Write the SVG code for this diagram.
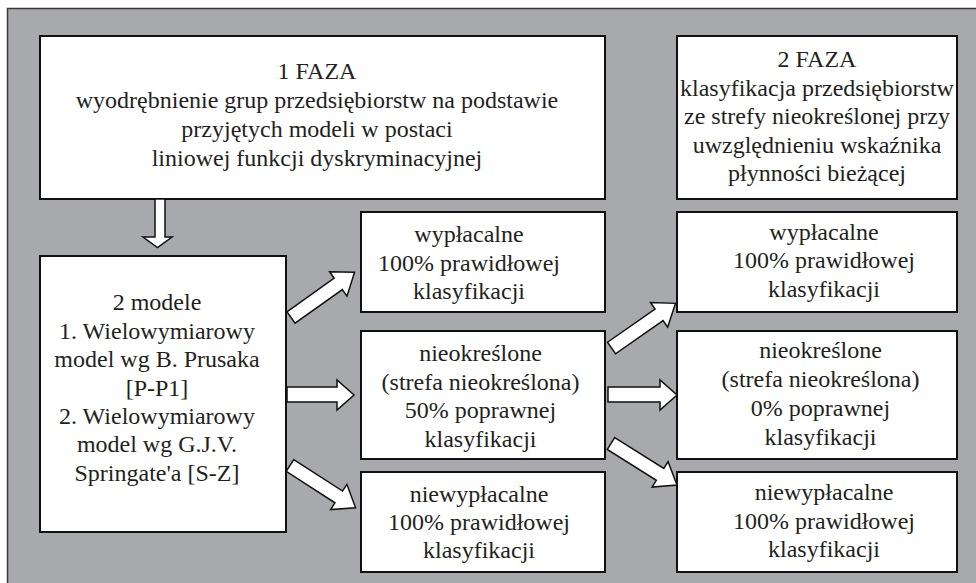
<svg xmlns="http://www.w3.org/2000/svg" xmlns:xlink="http://www.w3.org/1999/xlink" width="976" height="583" viewBox="0 0 976 583">
<style>
.bg{fill:#a7a9ac;stroke:#3a3a3a;stroke-width:1.5}
.box{fill:#fff;stroke:#111;stroke-width:2}
.arr{fill:#fff;stroke:#111;stroke-width:1.5;stroke-linejoin:miter}
text{font-family:"Liberation Serif","Times New Roman",serif;font-size:24px;fill:#231f20;text-anchor:middle}
</style>
<defs>
<path id="diag" d="M0,-7 L58,-7 L58,-15 L78,0 L58,15 L58,7 L0,7 Z"/>
</defs>
<rect x="0" y="0" width="976" height="583" fill="#fff"/>
<path class="bg" d="M977,8.5 L7.5,8.5 L7.5,584 L977,584 Z"/>

<g id="faza1">
<rect class="box" x="40" y="36" width="565" height="163"/>
<text x="317" y="79">1 FAZA</text>
<text x="317" y="108">wyodrębnienie grup przedsiębiorstw na podstawie</text>
<text x="317" y="137">przyjętych modeli w postaci</text>
<text x="317" y="166">liniowej funkcji dyskryminacyjnej</text>
</g>

<g id="faza2">
<rect class="box" x="677" y="36" width="280" height="163"/>
<text x="817" y="67">2 FAZA</text>
<text x="817" y="95.5">klasyfikacja przedsiębiorstw</text>
<text x="817" y="124">ze strefy nieokreślonej przy</text>
<text x="817" y="152.5">uwzględnieniu wskaźnika</text>
<text x="817" y="181">płynności bieżącej</text>
</g>

<g id="modele">
<rect class="box" x="40" y="256" width="246" height="276"/>
<text x="157" y="310">2 modele</text>
<text x="157" y="338.5">1. Wielowymiarowy</text>
<text x="157" y="367">model wg B. Prusaka</text>
<text x="157" y="395.5">[P-P1]</text>
<text x="157" y="424">2. Wielowymiarowy</text>
<text x="157" y="452">model wg G.J.V.</text>
<text x="157" y="480.5">Springate'a [S-Z]</text>
</g>

<g id="wyplacalne1">
<rect class="box" x="361" y="212" width="244" height="100"/>
<text x="469" y="242">wypłacalne</text>
<text x="469" y="270.5">100% prawidłowej</text>
<text x="469" y="299">klasyfikacji</text>
</g>

<g id="nieokreslone1">
<rect class="box" x="361" y="331" width="244" height="128"/>
<text x="480.5" y="361">nieokreślone</text>
<text x="480.5" y="389.5">(strefa nieokreślona)</text>
<text x="480.5" y="418">50% poprawnej</text>
<text x="480.5" y="446.5">klasyfikacji</text>
</g>

<g id="niewyplacalne1">
<rect class="box" x="361" y="472" width="244" height="100"/>
<text x="479" y="501.5">niewypłacalne</text>
<text x="479" y="530">100% prawidłowej</text>
<text x="479" y="558">klasyfikacji</text>
</g>

<g id="wyplacalne2">
<rect class="box" x="677" y="212" width="280" height="100"/>
<text x="824" y="239.5">wypłacalne</text>
<text x="824" y="268">100% prawidłowej</text>
<text x="824" y="296.5">klasyfikacji</text>
</g>

<g id="nieokreslone2">
<rect class="box" x="677" y="331" width="280" height="128"/>
<text x="820.5" y="358">nieokreślone</text>
<text x="820.5" y="387">(strefa nieokreślona)</text>
<text x="820.5" y="415.5">0% poprawnej</text>
<text x="820.5" y="444.5">klasyfikacji</text>
</g>

<g id="niewyplacalne2">
<rect class="box" x="677" y="472" width="280" height="100"/>
<text x="824" y="500">niewypłacalne</text>
<text x="824" y="529">100% prawidłowej</text>
<text x="824" y="557">klasyfikacji</text>
</g>

<g id="connectors">
<path class="arr" d="M155,199 L165,199 L165,237 L172,237 L157.5,247.5 L143,237 L155,237 Z"/>
<path class="arr" d="M287,387 L337,387 L337,380 L354,395 L337,410 L337,402 L287,402 Z"/>
<path class="arr" d="M608,387 L660,387 L660,380 L677,395 L660,410 L660,402 L608,402 Z"/>
<use href="#diag" xlink:href="#diag" class="arr" transform="translate(291,317.5) rotate(-35.4)"/>
<use href="#diag" xlink:href="#diag" class="arr" transform="translate(290,465.5) rotate(32.8)"/>
<use href="#diag" xlink:href="#diag" class="arr" transform="translate(611.5,348) rotate(-34.9)"/>
<use href="#diag" xlink:href="#diag" class="arr" transform="translate(611,443.5) rotate(32.2)"/>
</g>
</svg>
